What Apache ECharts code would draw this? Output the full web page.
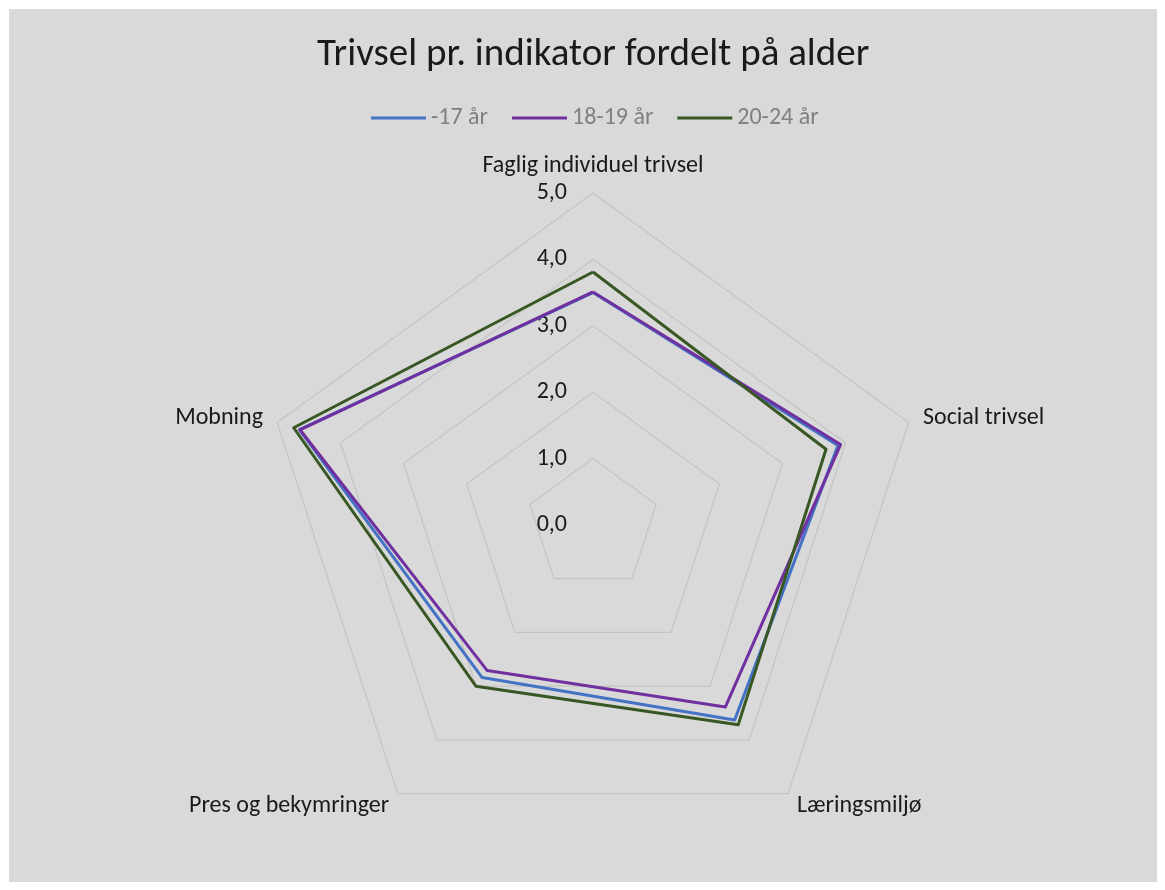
<!DOCTYPE html>
<html>
<head>
<meta charset="utf-8">
<title>Trivsel pr. indikator fordelt på alder</title>
<script src="https://cdn.jsdelivr.net/npm/echarts@6/dist/echarts.min.js"></script>
<style>
  html, body { margin: 0; padding: 0; background: #ffffff; }
  #chart {
    position: absolute;
    left: 9px;
    top: 9px;
    width: 1148px;
    height: 873px;
    background: #d9d9d9;
  }
</style>
</head>
<body>
<div id="chart"></div>
<script>
// indicators, counter-clockwise from the top (echarts radar order)
const categories = ['Faglig individuel trivsel', 'Mobning', 'Pres og bekymringer', 'Læringsmiljø', 'Social trivsel'];
const seriesNames = ['-17 år', '18-19 år', '20-24 år'];
const age17 = [3.50, 4.65, 2.84, 3.63, 3.88];
const age18to19 = [3.51, 4.64, 2.71, 3.39, 3.92];
const age20to24 = [3.81, 4.74, 3.00, 3.72, 3.69];
const colors = ['#4472c4', '#7030a0', '#385723'];

const font = 'Carlito, Calibri, Lato, sans-serif';

let chart = echarts.init(document.getElementById('chart'));

let indicator = categories.map(function (name, i) {
  let ind = { name: name, min: 0, max: 5 };
  // only the first axis carries the value labels
  if (i === 0) {
    ind.axisLabel = {
      show: true,
      color: '#1a1a1a',
      fontSize: 24,
      fontFamily: font,
      margin: 26,
      formatter: function (v) { return v.toFixed(1).replace('.', ','); }
    };
  }
  return ind;
});

let values = [age17, age18to19, age20to24];

chart.setOption({
  animation: false,
  color: colors,
  title: {
    text: 'Trivsel pr. indikator fordelt på alder',
    left: 303,
    top: 22,
    textStyle: {
      fontFamily: font,
      fontWeight: 'normal',
      fontSize: 39,
      color: '#1a1a1a'
    }
  },
  legend: {
    top: 92,
    left: 357,
    icon: 'rect',
    itemWidth: 55,
    itemHeight: 3,
    itemGap: 24,
    data: seriesNames,
    textStyle: {
      fontFamily: font,
      fontSize: 24,
      color: '#808080'
    }
  },
  radar: {
    center: [584, 516],
    radius: 332,
    startAngle: 90,
    shape: 'polygon',
    splitNumber: 5,
    axisName: {
      color: '#1a1a1a',
      fontFamily: font,
      fontSize: 24
    },
    nameGap: 15,
    axisLine: { show: false },
    axisTick: { show: false },
    axisLabel: { show: false },
    splitArea: { show: false },
    splitLine: {
      lineStyle: { color: '#c4c4c4', width: 1.2 }
    },
    indicator: indicator
  },
  series: seriesNames.map(function (name, i) {
    return {
      name: name,
      type: 'radar',
      symbol: 'none',
      z: 2 + i,
      lineStyle: { width: 3, color: colors[i] },
      itemStyle: { color: colors[i] },
      data: [{ value: values[i], name: name }]
    };
  })
});
</script>
</body>
</html>
